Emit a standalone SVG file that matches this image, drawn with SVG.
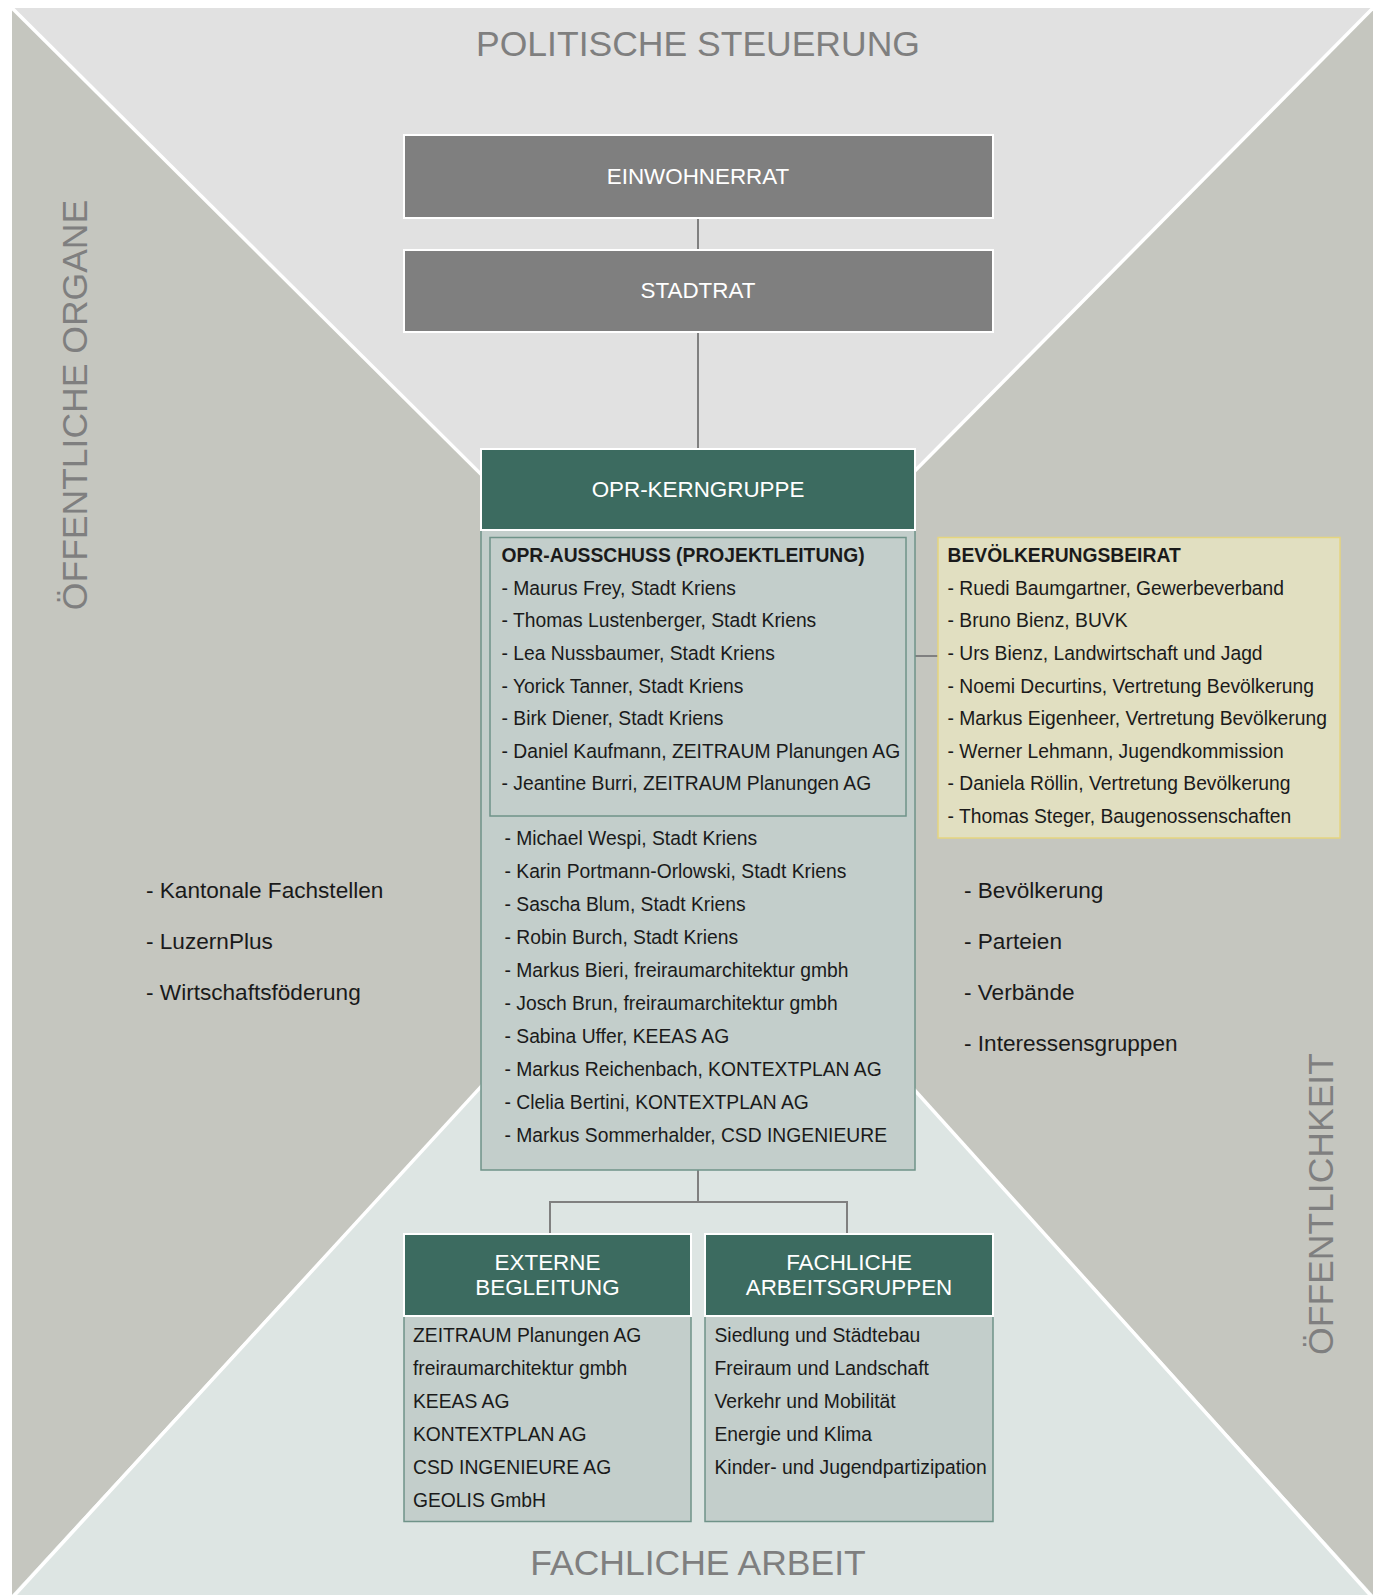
<svg xmlns="http://www.w3.org/2000/svg" width="1373" height="1595" viewBox="0 0 1373 1595">
  <style>
    text { font-family: "Liberation Sans", Arial, sans-serif; }
    .zone { font-size: 35.5px; fill: #7f7f7f; text-anchor: middle; }
    .head { font-size: 22.4px; fill: #ffffff; text-anchor: middle; }
    .item { font-size: 19.3px; fill: #1a1a1a; }
    .bold { font-weight: bold; }
    .outer { font-size: 22.6px; fill: #1a1a1a; }
    .grey { fill: #7f7f7f; stroke: #ffffff; stroke-width: 2; }
    .green { fill: #3c6b60; stroke: #ffffff; stroke-width: 2; }
    .body { fill: #c3cecb; stroke: #6f9389; stroke-width: 1.5; }
    .beirat { fill: #e1dfc1; stroke: #e5d57f; stroke-width: 1.5; }
    .link { fill: none; stroke: #808080; stroke-width: 2; }
  </style>

  <!-- background quadrants -->
  <g id="background">
    <rect x="0" y="0" width="1373" height="1595" fill="#ffffff"/>
    <polygon points="12,8 1373,8 698,690" fill="#e1e1e1"/>
    <polygon points="12,8 698,690 698,850 12,1595" fill="#c5c6bf"/>
    <polygon points="1373,8 698,690 698,850 1373,1595" fill="#c5c6bf"/>
    <polygon points="12,1595 1373,1595 698,850" fill="#dde5e3"/>
    <g stroke="#ffffff" stroke-width="3.5" fill="none">
      <line x1="12" y1="8" x2="698" y2="690"/>
      <line x1="1373" y1="8" x2="698" y2="690"/>
      <line x1="12" y1="1598" x2="698" y2="850"/>
      <line x1="1373" y1="1598" x2="698" y2="850"/>
    </g>
  </g>

  <!-- zone labels -->
  <g id="zones">
    <text class="zone" x="698" y="56">POLITISCHE STEUERUNG</text>
    <text class="zone" x="698" y="1575">FACHLICHE ARBEIT</text>
    <text class="zone" transform="translate(87,405) rotate(-90)">ÖFFENTLICHE ORGANE</text>
    <text class="zone" transform="translate(1333,1204) rotate(-90)">ÖFFENTLICHKEIT</text>
  </g>

  <!-- connectors -->
  <g id="connectors">
    <line class="link" x1="698" y1="218" x2="698" y2="250"/>
    <line class="link" x1="698" y1="332" x2="698" y2="449"/>
    <line class="link" x1="915" y1="656" x2="938" y2="656"/>
    <polyline class="link" points="698,1170 698,1202"/>
    <polyline class="link" points="550,1234 550,1202 847,1202 847,1234"/>
  </g>

  <g id="einwohnerrat">
    <rect class="grey" x="404" y="135" width="589" height="83"/>
    <text class="head" x="698" y="184">EINWOHNERRAT</text>
  </g>

  <g id="stadtrat">
    <rect class="grey" x="404" y="250" width="589" height="82"/>
    <text class="head" x="698" y="298">STADTRAT</text>
  </g>

  <g id="opr-kerngruppe">
    <rect class="body" x="481" y="530" width="434" height="640"/>
    <rect class="green" x="481" y="449" width="434" height="81"/>
    <text class="head" x="698" y="497">OPR-KERNGRUPPE</text>
    <text class="item" x="504.5" y="845">- Michael Wespi, Stadt Kriens</text>
    <text class="item" x="504.5" y="878">- Karin Portmann-Orlowski, Stadt Kriens</text>
    <text class="item" x="504.5" y="911">- Sascha Blum, Stadt Kriens</text>
    <text class="item" x="504.5" y="944">- Robin Burch, Stadt Kriens</text>
    <text class="item" x="504.5" y="977">- Markus Bieri, freiraumarchitektur gmbh</text>
    <text class="item" x="504.5" y="1010">- Josch Brun, freiraumarchitektur gmbh</text>
    <text class="item" x="504.5" y="1043">- Sabina Uffer, KEEAS AG</text>
    <text class="item" x="504.5" y="1076">- Markus Reichenbach, KONTEXTPLAN AG</text>
    <text class="item" x="504.5" y="1109">- Clelia Bertini, KONTEXTPLAN AG</text>
    <text class="item" x="504.5" y="1142">- Markus Sommerhalder, CSD INGENIEURE</text>
  </g>

  <g id="opr-ausschuss">
    <rect class="body" x="490" y="537.5" width="416" height="278.5"/>
    <text class="item bold" x="501.5" y="561.5">OPR-AUSSCHUSS (PROJEKTLEITUNG)</text>
    <text class="item" x="501.5" y="594.5">- Maurus Frey, Stadt Kriens</text>
    <text class="item" x="501.5" y="627.2">- Thomas Lustenberger, Stadt Kriens</text>
    <text class="item" x="501.5" y="659.8">- Lea Nussbaumer, Stadt Kriens</text>
    <text class="item" x="501.5" y="692.5">- Yorick Tanner, Stadt Kriens</text>
    <text class="item" x="501.5" y="725.1">- Birk Diener, Stadt Kriens</text>
    <text class="item" x="501.5" y="757.8">- Daniel Kaufmann, ZEITRAUM Planungen AG</text>
    <text class="item" x="501.5" y="790.4">- Jeantine Burri, ZEITRAUM Planungen AG</text>
  </g>

  <g id="bevoelkerungsbeirat">
    <rect class="beirat" x="938" y="537.5" width="402" height="300.5"/>
    <text class="item bold" x="947.5" y="561.5">BEVÖLKERUNGSBEIRAT</text>
    <text class="item" x="947.5" y="594.5">- Ruedi Baumgartner, Gewerbeverband</text>
    <text class="item" x="947.5" y="627.2">- Bruno Bienz, BUVK</text>
    <text class="item" x="947.5" y="659.8">- Urs Bienz, Landwirtschaft und Jagd</text>
    <text class="item" x="947.5" y="692.5">- Noemi Decurtins, Vertretung Bevölkerung</text>
    <text class="item" x="947.5" y="725.1">- Markus Eigenheer, Vertretung Bevölkerung</text>
    <text class="item" x="947.5" y="757.8">- Werner Lehmann, Jugendkommission</text>
    <text class="item" x="947.5" y="790.4">- Daniela Röllin, Vertretung Bevölkerung</text>
    <text class="item" x="947.5" y="823">- Thomas Steger, Baugenossenschaften</text>
  </g>

  <g id="oeffentliche-organe">
    <text class="outer" x="146" y="898">- Kantonale Fachstellen</text>
    <text class="outer" x="146" y="949">- LuzernPlus</text>
    <text class="outer" x="146" y="1000">- Wirtschaftsföderung</text>
  </g>

  <g id="oeffentlichkeit">
    <text class="outer" x="964" y="898">- Bevölkerung</text>
    <text class="outer" x="964" y="949">- Parteien</text>
    <text class="outer" x="964" y="1000">- Verbände</text>
    <text class="outer" x="964" y="1051">- Interessensgruppen</text>
  </g>

  <g id="externe-begleitung">
    <rect class="body" x="404" y="1316" width="287" height="205.5"/>
    <rect class="green" x="404" y="1234" width="287" height="82"/>
    <text class="head" x="547.5" y="1270">EXTERNE</text>
    <text class="head" x="547.5" y="1295">BEGLEITUNG</text>
    <text class="item" x="413" y="1342">ZEITRAUM Planungen AG</text>
    <text class="item" x="413" y="1375">freiraumarchitektur gmbh</text>
    <text class="item" x="413" y="1408">KEEAS AG</text>
    <text class="item" x="413" y="1441">KONTEXTPLAN AG</text>
    <text class="item" x="413" y="1474">CSD INGENIEURE AG</text>
    <text class="item" x="413" y="1507">GEOLIS GmbH</text>
  </g>

  <g id="fachliche-arbeitsgruppen">
    <rect class="body" x="705" y="1316" width="288" height="205.5"/>
    <rect class="green" x="705" y="1234" width="288" height="82"/>
    <text class="head" x="849" y="1270">FACHLICHE</text>
    <text class="head" x="849" y="1295">ARBEITSGRUPPEN</text>
    <text class="item" x="714.5" y="1342">Siedlung und Städtebau</text>
    <text class="item" x="714.5" y="1375">Freiraum und Landschaft</text>
    <text class="item" x="714.5" y="1408">Verkehr und Mobilität</text>
    <text class="item" x="714.5" y="1441">Energie und Klima</text>
    <text class="item" x="714.5" y="1474">Kinder- und Jugendpartizipation</text>
  </g>
</svg>
